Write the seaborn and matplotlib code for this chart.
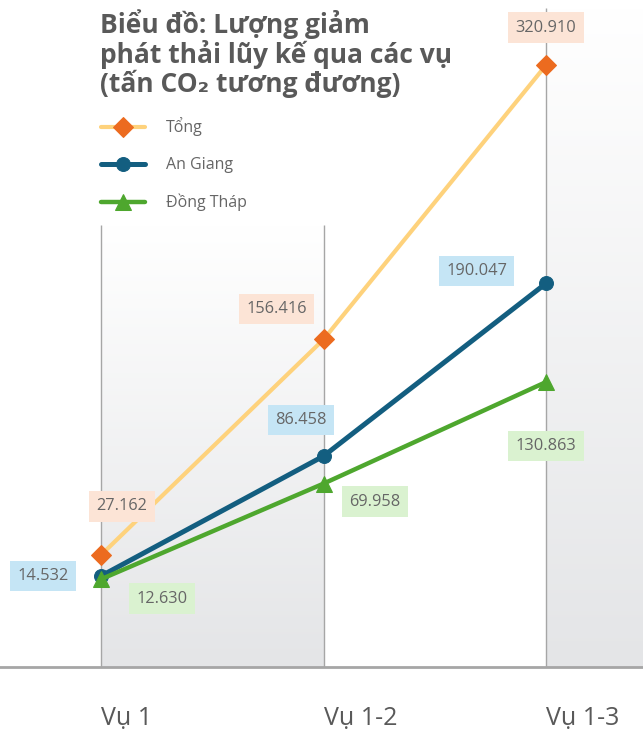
import numpy as np
import pandas as pd
import matplotlib
matplotlib.use("Agg")
import matplotlib.pyplot as plt
from matplotlib.colors import LinearSegmentedColormap
import seaborn as sns

# data
seasons = ["Vụ 1", "Vụ 1-2", "Vụ 1-3"]
tong = [27.162, 156.416, 320.910]
an_giang = [14.532, 86.458, 190.047]
dong_thap = [12.630, 69.958, 130.863]
series_names = ["Tổng", "An Giang", "Đồng Tháp"]

sns.set_theme(style="white")
plt.rcParams["font.family"] = ["Open Sans", "DejaVu Sans"]

df = pd.DataFrame({
    "x": list(range(len(seasons))) * 3,
    "value": tong + an_giang + dong_thap,
    "series": np.repeat(series_names, len(seasons)),
})

fig = plt.figure(figsize=(6.43, 7.34), dpi=100)
ax = fig.add_axes([0, 0.0913, 1, 0.9087])

# gradient background bands (white at top, grey at bottom)
grad = np.linspace(0, 1, 256).reshape(-1, 1)
cmap = LinearSegmentedColormap.from_list("bg", ["#ffffff", "#e4e5e7"])
ax.imshow(grad, extent=[0, 1, -40, 225], aspect="auto", cmap=cmap, zorder=0, origin="upper")
ax.imshow(grad, extent=[2, 2.436, -40, 355], aspect="auto", cmap=cmap, zorder=0, origin="upper")
ax.set_xlim(-0.454, 2.436)
ax.set_ylim(-40, 360)
ax.vlines([0, 1], -40, 225, color="#a6a6a6", lw=1, zorder=1)
ax.vlines([2], -40, 355, color="#a6a6a6", lw=1, zorder=1)

styles = {
    "Tổng": dict(color="#fed27c", marker="D", markersize=10, markerfacecolor="#ec6b1f",
                 markeredgecolor="#ec6b1f", lw=3),
    "An Giang": dict(color="#135e80", marker="o", markersize=10, markerfacecolor="#135e80",
                     markeredgecolor="#135e80", lw=3.6),
    "Đồng Tháp": dict(color="#4ea72e", marker="^", markersize=11, markerfacecolor="#4ea72e",
                      markeredgecolor="#4ea72e", lw=3.2),
}
for name in series_names:
    sub = df[df["series"] == name]
    sns.lineplot(data=sub, x="x", y="value", ax=ax, label=name, zorder=3, **styles[name])

# value labels
box_colors = {"Tổng": "#fce4d6", "An Giang": "#c5e5f5", "Đồng Tháp": "#daf2d0"}
offsets = {
    "Tổng": [(15, 35), (-34, 22), (0, 27)],
    "An Giang": [(-42, 0), (-16, 26), (-50, 9)],
    "Đồng Tháp": [(44, -14), (37, -13), (0, -46)],
}
for name in series_names:
    sub = df[df["series"] == name]
    for (xv, yv), off in zip(sub[["x", "value"]].values, offsets[name]):
        ax.annotate(f"{yv:,.3f}".replace(",", "."), (xv, yv), xytext=off,
                    textcoords="offset points", ha="center", va="center",
                    fontsize=11.8, color="#666666", zorder=5,
                    bbox=dict(boxstyle="square,pad=0.45", fc=box_colors[name], ec="none"))

ax.set_xticks(range(len(seasons)))
ax.set_xticklabels(seasons, ha="left", fontsize=18, color="#595959")
ax.tick_params(axis="x", length=0, pad=28)
ax.set_yticks([])
ax.set_xlabel("")
ax.set_ylabel("")
for s in ["top", "left", "right"]:
    ax.spines[s].set_visible(False)
ax.spines["bottom"].set_color("#a6a6a6")
ax.spines["bottom"].set_linewidth(2)

fig.text(0.155, 0.988, "Biểu đồ: Lượng giảm\nphát thải lũy kế qua các vụ\n(tấn CO₂ tương đương)",
         ha="left", va="top", fontsize=19, fontweight="bold", color="#595959", linespacing=1.05)

ax.legend(loc="upper left", bbox_to_anchor=(0.157, 0.84), bbox_transform=fig.transFigure,
          frameon=False, fontsize=11.5, handlelength=2.75, handletextpad=1.3,
          labelspacing=1.3, borderpad=0, borderaxespad=0, labelcolor="#666666")

fig.savefig("out.png", dpi=100)
